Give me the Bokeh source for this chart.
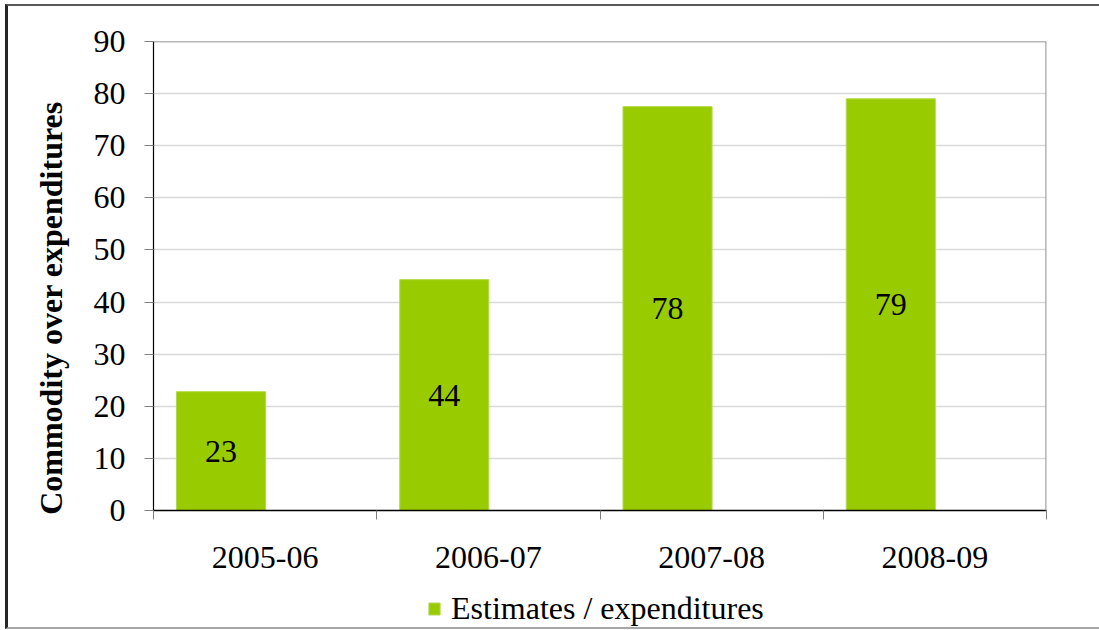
import numpy as np
from bokeh.plotting import figure
from bokeh.layouts import column
from bokeh.models import (ColumnDataSource, Range1d, FixedTicker, Legend, LegendItem, Span)
from bokeh.core.properties import value
from bokeh.embed import file_html
from bokeh.resources import INLINE

# ---- data ----
periods = ["2005-06", "2006-07", "2007-08", "2008-09"]
estimates = [22.8, 44.3, 77.5, 79.0]
y_ticks = [0, 10, 20, 30, 40, 50, 60, 70, 80, 90]
series_name = "Estimates / expenditures"
y_title = "Commodity over expenditures"

FONT = "Liberation Serif"
GREEN = "#99cc00"
EDGE = "#b3d94a"

idx = np.arange(len(periods))
bar_x = idx + 0.5 - 0.1975
src = ColumnDataSource(dict(
    x=bar_x,
    top=estimates,
    mid=[v / 2 for v in estimates],
    lbl=[str(int(round(v))) for v in estimates],
))

W = 1091
p = figure(width=W, height=580, x_range=Range1d(0, len(periods)), y_range=Range1d(0, 90),
           output_backend="svg", toolbar_location=None,
           min_border_left=145, min_border_right=53, min_border_top=35, min_border_bottom=76)
p.background_fill_color = "white"
p.border_fill_color = "white"
p.outline_line_color = None

r = p.vbar(x="x", top="top", bottom=0, width=0.399, source=src,
           fill_color=GREEN, line_color=EDGE, line_width=1)

p.text(x="x", y="mid", text="lbl", source=src, text_align="center", text_baseline="middle",
       text_font=value(FONT), text_font_size="32px", text_color="black")

# grid
p.xgrid.grid_line_color = None
p.ygrid.grid_line_color = "#d9d9d9"
p.ygrid.grid_line_width = 1.5
p.ygrid.ticker = FixedTicker(ticks=y_ticks)

p.add_layout(Span(location=90, dimension="width", line_color="#707070", line_width=1.5))
p.add_layout(Span(location=len(periods), dimension="height", line_color="#a6a6a6", line_width=2.5))

# y axis
ya = p.yaxis[0]
ya.ticker = FixedTicker(ticks=y_ticks)
ya.major_label_text_font = FONT
ya.major_label_text_font_size = "32px"
ya.major_label_text_color = "black"
ya.major_tick_out = 9
ya.major_tick_in = 0
ya.major_tick_line_color = "#808080"
ya.minor_tick_line_color = None
ya.axis_line_color = "black"
ya.axis_line_width = 1.2
ya.major_label_standoff = 19
ya.axis_label = y_title + "\u00a0" * 8
ya.axis_label_text_font = FONT
ya.axis_label_text_font_size = "32px"
ya.axis_label_text_font_style = "bold"
ya.axis_label_text_color = "black"
ya.axis_label_standoff = 22

# x axis
xa = p.xaxis[0]
xa.ticker = FixedTicker(ticks=list(idx + 0.5), minor_ticks=list(range(len(periods) + 1)))
xa.major_label_overrides = {float(i + 0.5): periods[i] for i in idx}
xa.major_label_text_font = FONT
xa.major_label_text_font_size = "32px"
xa.major_label_text_color = "black"
xa.major_tick_line_color = None
xa.major_tick_out = 0
xa.major_tick_in = 0
xa.minor_tick_out = 9
xa.minor_tick_in = 0
xa.minor_tick_line_color = "#808080"
xa.axis_line_color = "black"
xa.axis_line_width = 1.5
xa.major_label_standoff = 27

# ---- legend strip (separate small figure so the legend sits below the chart) ----
lg = figure(width=W, height=41, x_range=Range1d(0, len(periods)), y_range=Range1d(1000, 1100),
            output_backend="svg", toolbar_location=None,
            x_axis_location=None, y_axis_location=None,
            min_border_left=0, min_border_right=0, min_border_top=0, min_border_bottom=0)
lg.grid.grid_line_color = None
lg.outline_line_color = None
lg.background_fill_color = "white"
lg.border_fill_color = "white"
r2 = lg.vbar(x="x", top="top", bottom=0, width=0.399, source=src,
             fill_color=GREEN, line_color=EDGE, line_width=1)

leg = Legend(items=[LegendItem(label=series_name, renderers=[r2])], location=(274, 0),
             orientation="horizontal")
leg.label_text_font = FONT
leg.label_text_font_size = "32px"
leg.label_text_color = "black"
leg.glyph_width = 14
leg.glyph_height = 15
leg.label_standoff = 10
leg.border_line_color = None
leg.background_fill_alpha = 0
leg.margin = 0
leg.padding = 0
lg.add_layout(leg)

layout = column(p, lg, spacing=0,
                styles={"border-left": "3px solid #262626", "border-top": "2px solid #595959",
                        "border-bottom": "2px solid #a6a6a6", "margin-left": "5px",
                        "margin-top": "4px"})

open("out.html", "w").write(file_html(layout, INLINE))
